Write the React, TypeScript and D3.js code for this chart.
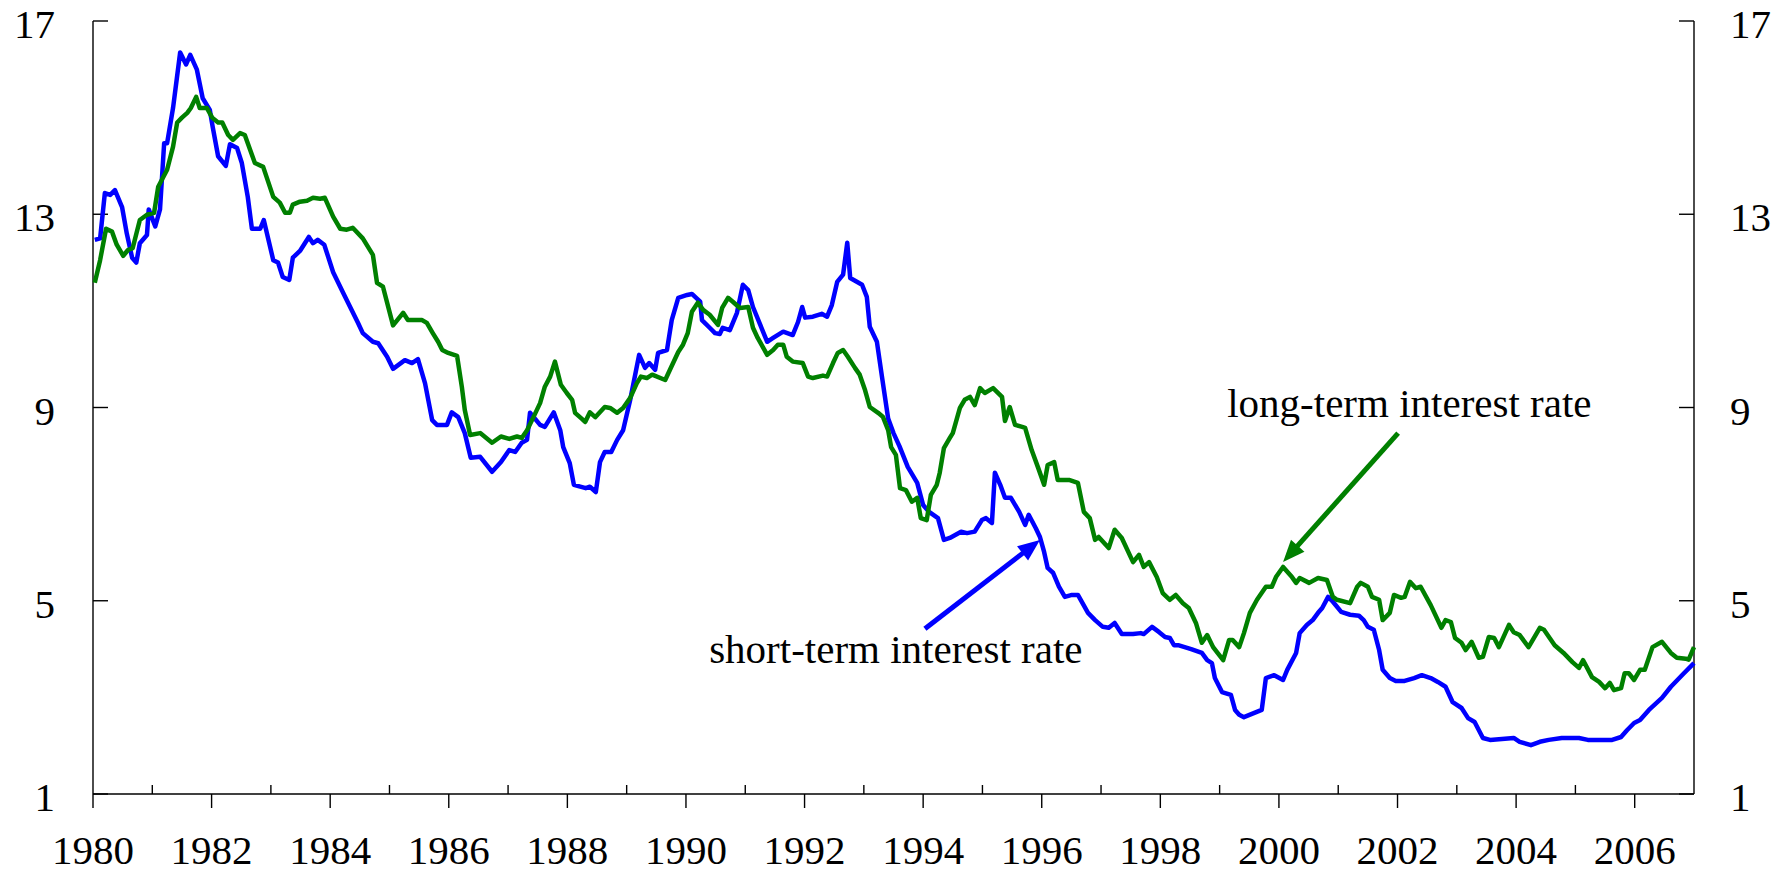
import * as d3 from 'd3';

// [decimal year, percent]
const shortRate: [number, number][] = [
  [1980.03, 12.47], [1980.12, 12.5], [1980.2, 13.44], [1980.29, 13.4], [1980.37, 13.5], [1980.49, 13.15],
  [1980.57, 12.6], [1980.66, 12.1], [1980.73, 12.0], [1980.79, 12.4], [1980.91, 12.57], [1980.94, 13.1],
  [1981.05, 12.75], [1981.13, 13.1], [1981.2, 14.47], [1981.25, 14.47], [1981.35, 15.2], [1981.47, 16.35],
  [1981.57, 16.1], [1981.64, 16.3], [1981.75, 16.0], [1981.85, 15.4], [1981.97, 15.16], [1982.02, 14.8],
  [1982.11, 14.2], [1982.24, 14.0], [1982.31, 14.45], [1982.43, 14.37], [1982.51, 14.06], [1982.61, 13.36],
  [1982.68, 12.7], [1982.82, 12.7], [1982.88, 12.88], [1983.04, 12.05], [1983.12, 12.0], [1983.2, 11.7],
  [1983.31, 11.64], [1983.37, 12.1], [1983.49, 12.24], [1983.64, 12.53], [1983.71, 12.4], [1983.79, 12.47],
  [1983.9, 12.37], [1984.05, 11.8], [1984.22, 11.37], [1984.47, 10.75], [1984.55, 10.54], [1984.72, 10.36],
  [1984.81, 10.33], [1984.96, 10.05], [1985.06, 9.8], [1985.26, 9.98], [1985.38, 9.92], [1985.48, 10.0],
  [1985.6, 9.5], [1985.72, 8.74], [1985.8, 8.64], [1985.97, 8.64], [1986.05, 8.9], [1986.16, 8.8],
  [1986.27, 8.47], [1986.37, 7.96], [1986.53, 7.98], [1986.73, 7.67], [1986.88, 7.87], [1987.02, 8.12],
  [1987.12, 8.08], [1987.23, 8.27], [1987.32, 8.33], [1987.37, 8.89], [1987.54, 8.64], [1987.62, 8.6],
  [1987.77, 8.9], [1987.88, 8.53], [1987.93, 8.18], [1988.04, 7.85], [1988.11, 7.4], [1988.31, 7.33],
  [1988.38, 7.36], [1988.48, 7.25], [1988.55, 7.87], [1988.63, 8.08], [1988.74, 8.08], [1988.84, 8.33],
  [1988.94, 8.53], [1989.06, 9.16], [1989.21, 10.09], [1989.31, 9.82], [1989.38, 9.92], [1989.48, 9.78],
  [1989.53, 10.13], [1989.68, 10.19], [1989.76, 10.81], [1989.87, 11.27], [1990.02, 11.33], [1990.1, 11.35],
  [1990.24, 11.19], [1990.27, 10.81], [1990.4, 10.65], [1990.49, 10.54], [1990.57, 10.52], [1990.62, 10.65],
  [1990.74, 10.6], [1990.86, 10.96], [1990.96, 11.54], [1991.05, 11.43], [1991.13, 11.08], [1991.37, 10.36],
  [1991.47, 10.44], [1991.64, 10.57], [1991.8, 10.5], [1991.89, 10.77], [1991.96, 11.08], [1992.01, 10.86],
  [1992.14, 10.88], [1992.29, 10.94], [1992.38, 10.88], [1992.46, 11.12], [1992.55, 11.6], [1992.65, 11.75],
  [1992.72, 12.41], [1992.77, 11.68], [1992.97, 11.54], [1993.05, 11.29], [1993.1, 10.67], [1993.22, 10.36],
  [1993.31, 9.6], [1993.41, 8.77], [1993.5, 8.47], [1993.6, 8.2], [1993.74, 7.77], [1993.9, 7.44],
  [1994.0, 6.98], [1994.1, 6.84], [1994.25, 6.71], [1994.35, 6.26], [1994.45, 6.3], [1994.64, 6.43],
  [1994.74, 6.4], [1994.87, 6.43], [1994.99, 6.67], [1995.06, 6.71], [1995.16, 6.61], [1995.21, 7.65],
  [1995.3, 7.4], [1995.38, 7.13], [1995.48, 7.13], [1995.62, 6.84], [1995.72, 6.57], [1995.78, 6.78],
  [1995.9, 6.5], [1995.97, 6.32], [1996.04, 6.01], [1996.1, 5.68], [1996.19, 5.58], [1996.29, 5.29],
  [1996.39, 5.08], [1996.51, 5.12], [1996.61, 5.12], [1996.78, 4.75], [1996.9, 4.6], [1997.03, 4.46],
  [1997.13, 4.44], [1997.23, 4.54], [1997.35, 4.31], [1997.54, 4.31], [1997.67, 4.33], [1997.72, 4.31],
  [1997.86, 4.46], [1997.98, 4.35], [1998.08, 4.25], [1998.16, 4.23], [1998.23, 4.08], [1998.3, 4.08],
  [1998.52, 4.0], [1998.7, 3.92], [1998.79, 3.77], [1998.87, 3.71], [1998.92, 3.4], [1999.04, 3.11],
  [1999.19, 3.05], [1999.26, 2.74], [1999.33, 2.64], [1999.41, 2.59], [1999.71, 2.74], [1999.78, 3.4],
  [1999.92, 3.46], [2000.07, 3.36], [2000.14, 3.57], [2000.29, 3.92], [2000.35, 4.33], [2000.47, 4.5],
  [2000.57, 4.6], [2000.66, 4.75], [2000.73, 4.85], [2000.83, 5.08], [2000.91, 4.98], [2001.05, 4.77],
  [2001.2, 4.71], [2001.35, 4.69], [2001.43, 4.6], [2001.5, 4.46], [2001.6, 4.4], [2001.69, 3.98],
  [2001.75, 3.57], [2001.87, 3.4], [2001.97, 3.34], [2002.12, 3.34], [2002.28, 3.4], [2002.41, 3.46],
  [2002.56, 3.4], [2002.68, 3.32], [2002.81, 3.22], [2002.93, 2.9], [2003.08, 2.78], [2003.19, 2.57],
  [2003.3, 2.49], [2003.44, 2.16], [2003.56, 2.12], [2003.96, 2.16], [2004.06, 2.08], [2004.25, 2.01],
  [2004.4, 2.08], [2004.55, 2.12], [2004.77, 2.16], [2005.06, 2.16], [2005.21, 2.12], [2005.62, 2.12],
  [2005.77, 2.18], [2005.87, 2.32], [2005.99, 2.47], [2006.09, 2.53], [2006.24, 2.74], [2006.46, 2.99],
  [2006.61, 3.22], [2006.83, 3.5], [2007.0, 3.71],
];

const longRate: [number, number][] = [
  [1980.03, 11.58], [1980.12, 12.05], [1980.22, 12.7], [1980.32, 12.64], [1980.4, 12.37], [1980.51, 12.14],
  [1980.59, 12.26], [1980.67, 12.3], [1980.79, 12.88], [1980.91, 12.99], [1981.03, 13.03], [1981.1, 13.57],
  [1981.25, 13.92], [1981.35, 14.4], [1981.42, 14.9], [1981.5, 15.0], [1981.59, 15.1], [1981.65, 15.2],
  [1981.74, 15.43], [1981.8, 15.2], [1981.92, 15.2], [1982.01, 15.0], [1982.11, 14.9], [1982.18, 14.9],
  [1982.28, 14.64], [1982.36, 14.54], [1982.48, 14.68], [1982.56, 14.64], [1982.73, 14.06], [1982.87, 13.98],
  [1983.04, 13.36], [1983.15, 13.24], [1983.24, 13.03], [1983.32, 13.03], [1983.37, 13.2], [1983.49, 13.26],
  [1983.61, 13.28], [1983.71, 13.34], [1983.83, 13.32], [1983.91, 13.34], [1984.05, 12.95], [1984.17, 12.7],
  [1984.28, 12.68], [1984.38, 12.72], [1984.55, 12.5], [1984.72, 12.16], [1984.79, 11.58], [1984.89, 11.5],
  [1985.06, 10.7], [1985.23, 10.96], [1985.31, 10.81], [1985.55, 10.81], [1985.63, 10.75], [1985.73, 10.54],
  [1985.82, 10.36], [1985.89, 10.19], [1985.99, 10.13], [1986.14, 10.07], [1986.22, 9.43], [1986.27, 8.95],
  [1986.36, 8.43], [1986.53, 8.47], [1986.73, 8.27], [1986.88, 8.4], [1987.02, 8.35], [1987.15, 8.4],
  [1987.23, 8.37], [1987.32, 8.53], [1987.42, 8.78], [1987.54, 9.09], [1987.62, 9.43], [1987.71, 9.64],
  [1987.79, 9.95], [1987.89, 9.47], [1987.99, 9.3], [1988.08, 9.16], [1988.13, 8.89], [1988.25, 8.76],
  [1988.3, 8.7], [1988.38, 8.9], [1988.47, 8.8], [1988.63, 9.01], [1988.72, 8.99], [1988.84, 8.89],
  [1988.94, 8.99], [1989.06, 9.2], [1989.17, 9.5], [1989.24, 9.64], [1989.34, 9.61], [1989.43, 9.68],
  [1989.65, 9.57], [1989.73, 9.78], [1989.87, 10.15], [1989.95, 10.3], [1990.03, 10.54], [1990.1, 10.98],
  [1990.2, 11.17], [1990.29, 11.02], [1990.4, 10.92], [1990.54, 10.71], [1990.61, 11.06], [1990.71, 11.27],
  [1990.79, 11.19], [1990.91, 11.06], [1991.05, 11.08], [1991.13, 10.65], [1991.21, 10.44], [1991.37, 10.09],
  [1991.47, 10.19], [1991.55, 10.3], [1991.64, 10.3], [1991.7, 10.05], [1991.8, 9.95], [1991.97, 9.92],
  [1992.06, 9.64], [1992.14, 9.61], [1992.31, 9.66], [1992.38, 9.64], [1992.48, 9.92], [1992.56, 10.13],
  [1992.65, 10.19], [1992.73, 10.05], [1992.85, 9.82], [1992.93, 9.68], [1993.02, 9.36], [1993.1, 9.01],
  [1993.24, 8.89], [1993.32, 8.81], [1993.41, 8.53], [1993.46, 8.18], [1993.54, 8.02], [1993.61, 7.33],
  [1993.71, 7.29], [1993.81, 7.05], [1993.9, 7.13], [1993.96, 6.71], [1994.06, 6.67], [1994.13, 7.19],
  [1994.23, 7.4], [1994.28, 7.65], [1994.35, 8.16], [1994.45, 8.37], [1994.5, 8.47], [1994.62, 8.99],
  [1994.7, 9.16], [1994.79, 9.22], [1994.87, 9.05], [1994.96, 9.4], [1995.04, 9.3], [1995.18, 9.4],
  [1995.33, 9.22], [1995.38, 8.72], [1995.46, 9.01], [1995.55, 8.64], [1995.67, 8.6], [1995.72, 8.58],
  [1995.83, 8.12], [1995.94, 7.75], [1996.04, 7.4], [1996.1, 7.81], [1996.21, 7.87], [1996.27, 7.5],
  [1996.46, 7.5], [1996.61, 7.44], [1996.71, 6.84], [1996.81, 6.71], [1996.9, 6.26], [1996.96, 6.32],
  [1997.13, 6.09], [1997.23, 6.47], [1997.35, 6.3], [1997.54, 5.8], [1997.64, 5.95], [1997.72, 5.7],
  [1997.81, 5.8], [1997.94, 5.49], [1998.04, 5.16], [1998.16, 5.02], [1998.26, 5.12], [1998.38, 4.95],
  [1998.48, 4.85], [1998.6, 4.54], [1998.7, 4.13], [1998.79, 4.29], [1998.89, 4.04], [1999.06, 3.77],
  [1999.16, 4.19], [1999.22, 4.19], [1999.33, 4.04], [1999.41, 4.33], [1999.51, 4.75], [1999.63, 5.02],
  [1999.78, 5.29], [1999.88, 5.29], [1999.95, 5.49], [2000.07, 5.7], [2000.22, 5.49], [2000.29, 5.37],
  [2000.35, 5.47], [2000.51, 5.37], [2000.66, 5.47], [2000.81, 5.43], [2000.91, 5.08], [2000.98, 5.02],
  [2001.2, 4.95], [2001.32, 5.29], [2001.38, 5.37], [2001.5, 5.29], [2001.57, 5.08], [2001.69, 5.02],
  [2001.75, 4.6], [2001.87, 4.75], [2001.94, 5.12], [2002.06, 5.06], [2002.12, 5.08], [2002.21, 5.39],
  [2002.31, 5.26], [2002.39, 5.29], [2002.56, 4.91], [2002.74, 4.44], [2002.81, 4.6], [2002.9, 4.56],
  [2002.97, 4.23], [2003.08, 4.13], [2003.15, 3.98], [2003.25, 4.15], [2003.37, 3.82], [2003.44, 3.84],
  [2003.54, 4.25], [2003.63, 4.23], [2003.71, 4.04], [2003.88, 4.5], [2003.96, 4.35], [2004.06, 4.29],
  [2004.21, 4.04], [2004.4, 4.44], [2004.47, 4.4], [2004.65, 4.08], [2004.8, 3.92], [2004.95, 3.73],
  [2005.06, 3.61], [2005.13, 3.77], [2005.28, 3.42], [2005.4, 3.32], [2005.5, 3.19], [2005.58, 3.3],
  [2005.65, 3.15], [2005.77, 3.19], [2005.83, 3.5], [2005.9, 3.5], [2005.99, 3.36], [2006.09, 3.57],
  [2006.17, 3.57], [2006.3, 4.04], [2006.46, 4.15], [2006.61, 3.92], [2006.71, 3.82], [2006.86, 3.8],
  [2006.91, 3.78], [2007.0, 4.04],
];

const rateTicks = [1, 5, 9, 13, 17];
const labelYears = [1980, 1982, 1984, 1986, 1988, 1990, 1992, 1994, 1996, 1998, 2000, 2002, 2004, 2006];
const oddYears = [1981, 1983, 1985, 1987, 1989, 1991, 1993, 1995, 1997, 1999, 2001, 2003, 2005];

// text label, where the label sits, arrow tail and arrow tip (year, rate)
const notes = [
  { text: 'long-term interest rate', at: [2002.2, 8.8], from: [2002.01, 8.47], to: [2000.07, 5.8], color: '#008000' },
  { text: 'short-term interest rate', at: [1993.54, 3.71], from: [1994.03, 4.42], to: [1995.97, 6.26], color: '#0000ff' },
];

const W = 1783;
const H = 873;
const font = '"Liberation Serif", "Times New Roman", serif';

export default function App() {
  const x = d3.scaleLinear().domain([1980, 2007]).range([93, 1694]);
  const y = d3.scaleLinear().domain([1, 17]).range([794, 21]);
  const line = d3.line<[number, number]>().x(d => x(d[0])).y(d => y(d[1]));

  const x0 = x.range()[0];
  const x1 = x.range()[1];
  const yBottom = y(1);
  const yTop = y(17);

  // arrow = shaft up to the head base plus a filled triangle
  const arrow = (n: typeof notes[0]) => {
    const tx = x(n.from[0]), ty = y(n.from[1]);
    const hx = x(n.to[0]), hy = y(n.to[1]);
    const len = Math.hypot(hx - tx, hy - ty);
    const ux = (hx - tx) / len, uy = (hy - ty) / len;
    const headLen = 22, half = 9;
    const bx = hx - ux * headLen, by = hy - uy * headLen;
    const pts = [[hx, hy], [bx - uy * half, by + ux * half], [bx + uy * half, by - ux * half]];
    return (
      <g key={n.text}>
        <line x1={tx} y1={ty} x2={bx + ux * 2} y2={by + uy * 2} stroke={n.color} strokeWidth={5} />
        <polygon points={pts.map(p => p.join(',')).join(' ')} fill={n.color} />
      </g>
    );
  };

  return (
    <svg width={W} height={H} style={{ position: 'absolute', left: 0, top: 0, background: '#fff' }}
      fontFamily={font}>
      {/* axes frame */}
      <g stroke="#000" strokeWidth={1.4} fill="none">
        <line x1={x0} y1={yTop} x2={x0} y2={yBottom} />
        <line x1={x1} y1={yTop} x2={x1} y2={yBottom} />
        <line x1={x0} y1={yBottom} x2={x1} y2={yBottom} />
        {rateTicks.map(t => (
          <g key={t}>
            <line x1={x0} y1={y(t)} x2={x0 + 15} y2={y(t)} />
            <line x1={x1 - 15} y1={y(t)} x2={x1} y2={y(t)} />
          </g>
        ))}
        {labelYears.map(yr => (
          <line key={yr} x1={x(yr)} y1={yBottom} x2={x(yr)} y2={yBottom + 14} />
        ))}
        {oddYears.map(yr => (
          <line key={yr} x1={x(yr)} y1={yBottom} x2={x(yr)} y2={yBottom - 9} />
        ))}
      </g>

      {/* tick labels */}
      <g fontSize={41} fill="#000">
        {rateTicks.map(t => (
          <g key={t}>
            <text x={x0 - 38} y={y(t) + 17} textAnchor="end">{t}</text>
            <text x={x1 + 36} y={y(t) + 17} textAnchor="start">{t}</text>
          </g>
        ))}
        {labelYears.map(yr => (
          <text key={yr} x={x(yr)} y={864} textAnchor="middle">{yr}</text>
        ))}
      </g>

      {/* series */}
      <path d={line(shortRate) ?? ''} fill="none" stroke="#0000ff" strokeWidth={4.5} strokeLinejoin="round" />
      <path d={line(longRate) ?? ''} fill="none" stroke="#008000" strokeWidth={4.5} strokeLinejoin="round" />

      {/* annotations */}
      {notes.map(arrow)}
      <g fontSize={41} fill="#000">
        {notes.map(n => (
          <text key={n.text} x={x(n.at[0])} y={y(n.at[1])} textAnchor="middle">{n.text}</text>
        ))}
      </g>
    </svg>
  );
}
